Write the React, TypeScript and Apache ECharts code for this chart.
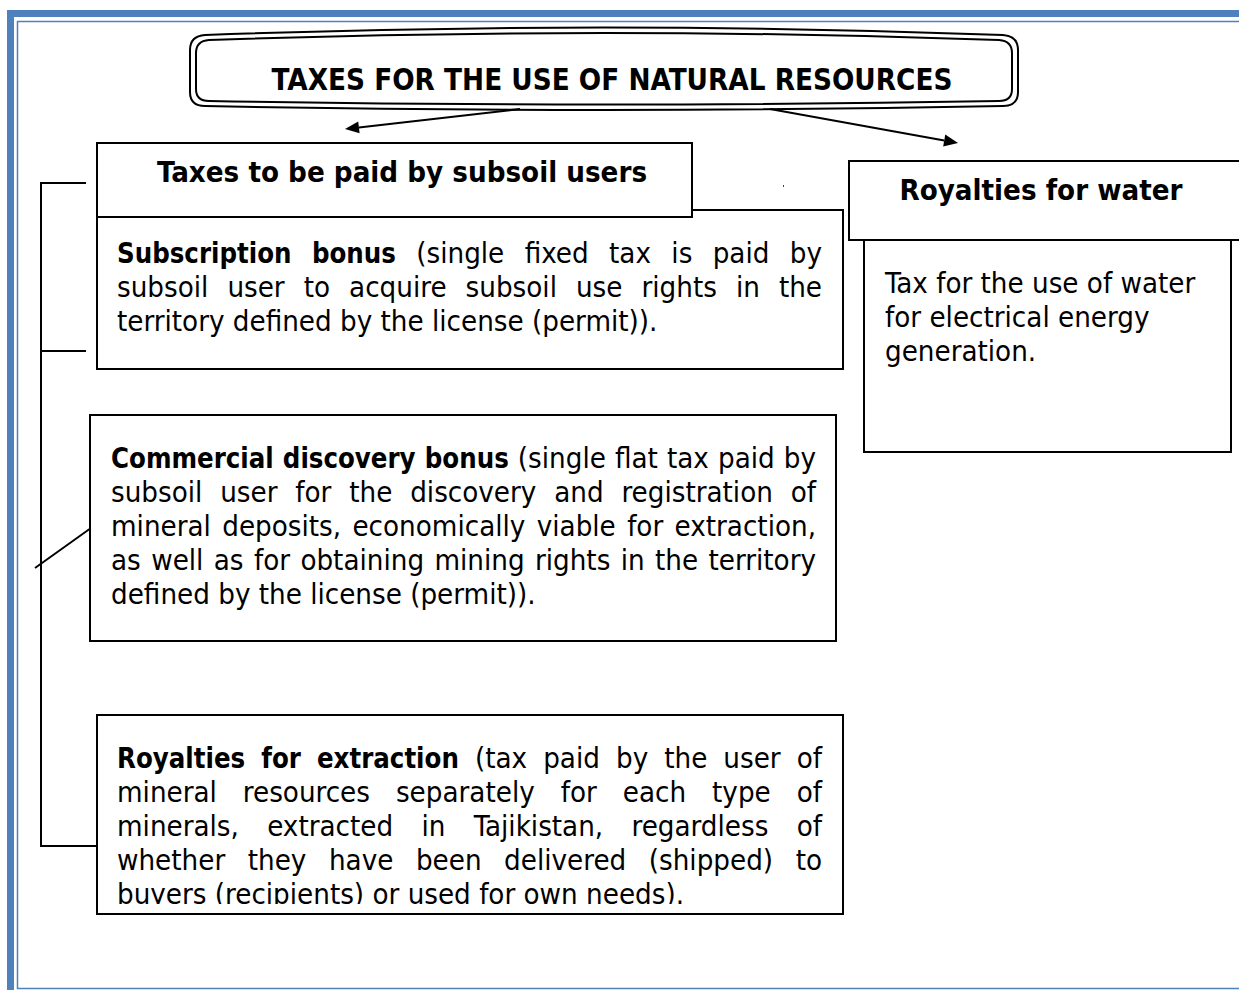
import React, { useEffect, useRef } from 'react';
import * as echarts from 'echarts';

const FONT = '"DejaVu Sans Condensed", "DejaVu Sans", "Noto Sans", sans-serif';
const BLUE = '#4f81bd';
const BOLD_SCALE = 0.935;

const TITLE = 'TAXES FOR THE USE OF NATURAL RESOURCES';
const HEADER_LEFT = 'Taxes to be paid by subsoil users';
const HEADER_RIGHT = 'Royalties for water';

type Seg = { t: string; b?: boolean };

const SUBSCRIPTION_LINES: Seg[][] = [
  [{ t: 'Subscription bonus', b: true }, { t: '(single fixed tax is paid by' }],
  [{ t: 'subsoil user to acquire subsoil use rights in the' }],
  [{ t: 'territory defined by the license (permit)).' }],
];

const DISCOVERY_LINES: Seg[][] = [
  [{ t: 'Commercial discovery bonus', b: true }, { t: '(single flat tax paid by' }],
  [{ t: 'subsoil user for the discovery and registration of' }],
  [{ t: 'mineral deposits, economically viable for extraction,' }],
  [{ t: 'as well as for obtaining mining rights in the territory' }],
  [{ t: 'defined by the license (permit)).' }],
];

const EXTRACTION_LINES: Seg[][] = [
  [{ t: 'Royalties for extraction', b: true }, { t: '(tax paid by the user of' }],
  [{ t: 'mineral resources separately for each type of' }],
  [{ t: 'minerals, extracted in Tajikistan, regardless of' }],
  [{ t: 'whether they have been delivered (shipped) to' }],
  [{ t: 'buyers (recipients) or used for own needs).' }],
];

const WATER_LINES: Seg[][] = [
  [{ t: 'Tax for the use of water' }],
  [{ t: 'for electrical energy' }],
  [{ t: 'generation.' }],
];

const TITLE_OUTER =
  'M 205 35 Q 604 20 1003 35 Q 1018 36 1018 50 L 1018 92 Q 1018 106 1003 106 Q 604 114 205 106 Q 190 106 190 92 L 190 50 Q 190 36 205 35 Z';
const TITLE_INNER =
  'M 209 40 Q 604 26 999 40 Q 1012 41 1012 53 L 1012 89 Q 1012 101 999 101 Q 604 108 209 101 Q 196 101 196 89 L 196 53 Q 196 41 209 40 Z';

let registered = false;
function registerShapes() {
  if (registered) return;
  registered = true;
  echarts.graphic.registerShape('titleOuter', echarts.graphic.extendPath(TITLE_OUTER, {}) as any);
  echarts.graphic.registerShape('titleInner', echarts.graphic.extendPath(TITLE_INNER, {}) as any);
}

const ctx = document.createElement('canvas').getContext('2d') as CanvasRenderingContext2D;
function measure(t: string, bold: boolean, size: number) {
  ctx.font = `${bold ? 'bold ' : ''}${size}px ${FONT}`;
  return ctx.measureText(t).width;
}
// font size that makes a text as wide as it is in the reference
function fitSize(t: string, bold: boolean, width: number, max: number) {
  const s = (28 * width) / measure(t, bold, 28);
  return Math.min(max, Math.round(s * 10) / 10);
}

function textEl(x: number, y: number, text: string, bold: boolean, size: number, align = 'left', scaleX = 1) {
  return {
    type: 'text',
    x,
    y,
    scaleX,
    silent: true,
    style: {
      text,
      fill: '#000',
      fontSize: size,
      fontFamily: FONT,
      fontWeight: bold ? 'bold' : 'normal',
      align,
      verticalAlign: 'middle',
      textAlign: align,
      textVerticalAlign: 'middle',
    },
  };
}

function paragraph(lines: Seg[][], left: number, right: number, y0: number, step: number, size: number, justifyAll: boolean) {
  const els: any[] = [];
  lines.forEach((segs, i) => {
    const words: { w: string; b: boolean }[] = [];
    segs.forEach((s) => s.t.split(' ').filter(Boolean).forEach((w) => words.push({ w, b: !!s.b })));
    const widths = words.map((x) => measure(x.w, x.b, size) * (x.b ? BOLD_SCALE : 1));
    const total = widths.reduce((a, b) => a + b, 0);
    const justify = justifyAll && i < lines.length - 1 && words.length > 1;
    const gap = justify ? (right - left - total) / (words.length - 1) : measure(' ', false, size);
    let x = left;
    words.forEach((wd, k) => {
      els.push(textEl(x, y0 + i * step, wd.w, wd.b, size, 'left', wd.b ? BOLD_SCALE : 1));
      x += widths[k] + gap;
    });
  });
  return els;
}

function box(x: number, y: number, w: number, h: number) {
  return {
    type: 'rect',
    shape: { x, y, width: w, height: h },
    style: { fill: '#fff', stroke: '#000', lineWidth: 2 },
  };
}

function line(x1: number, y1: number, x2: number, y2: number, lw = 2, color = '#000') {
  return { type: 'line', shape: { x1, y1, x2, y2 }, style: { stroke: color, lineWidth: lw } };
}

function arrow(x1: number, y1: number, x2: number, y2: number) {
  const a = Math.atan2(y2 - y1, x2 - x1);
  const c = Math.cos(a);
  const s = Math.sin(a);
  const L = 14;
  const W = 6;
  const bx = x2 - L * c;
  const by = y2 - L * s;
  return [
    line(x1, y1, bx, by, 2),
    {
      type: 'polygon',
      shape: { points: [[x2, y2], [bx - s * W, by + c * W], [bx + s * W, by - c * W]] },
      style: { fill: '#000' },
    },
  ];
}

export default function App() {
  const ref = useRef<HTMLDivElement>(null);
  useEffect(() => {
    if (!ref.current) return;
    registerShapes();
    const chart = echarts.init(ref.current, null, { renderer: 'svg' });
    const BODY = fitSize('Tax for the use of water', false, 320, 29.2);
    const TITLE_SIZE = fitSize(TITLE, true, 680, 34);
    const HL = fitSize(HEADER_LEFT, true, 490, 31);
    const HR = fitSize(HEADER_RIGHT, true, 283, 31);
    const elements: any[] = [
      // page border
      { type: 'rect', shape: { x: 7, y: 10, width: 7, height: 980 }, style: { fill: BLUE } },
      { type: 'rect', shape: { x: 7, y: 10, width: 1232, height: 7 }, style: { fill: BLUE } },
      line(17.5, 21, 17.5, 989, 1.5, BLUE),
      line(17, 21.5, 1239, 21.5, 1.5, BLUE),
      line(17, 988.5, 1239, 988.5, 1.5, BLUE),
      // title
      { type: 'titleOuter', style: { fill: '#fff', stroke: '#000', lineWidth: 2 } },
      { type: 'titleInner', style: { fill: 'none', stroke: '#000', lineWidth: 2 } },
      textEl(612, 80, TITLE, true, TITLE_SIZE, 'center'),
      ...arrow(520, 109, 345, 129),
      ...arrow(770, 109, 958, 143),
      // left bracket
      line(41, 183, 41, 846),
      line(40, 183, 86, 183),
      line(40, 351, 86, 351),
      line(40, 846, 97, 846),
      line(35, 568, 91, 528),
      // subscription box (behind header)
      box(97, 210, 746, 159),
      box(97, 143, 595, 74),
      textEl(402, 172, HEADER_LEFT, true, HL, 'center'),
      ...paragraph(SUBSCRIPTION_LINES, 117, 822, 253, 34, BODY, true),
      // discovery box
      box(90, 415, 746, 226),
      ...paragraph(DISCOVERY_LINES, 111, 816, 458, 34, BODY, true),
      // extraction box
      box(97, 715, 746, 199),
      ...paragraph(EXTRACTION_LINES, 117, 822, 758, 34, BODY, true),
      { type: 'rect', shape: { x: 98, y: 904, width: 744, height: 9 }, style: { fill: '#fff' } },
      line(97, 914, 843, 914),
      // water
      box(864, 240, 367, 212),
      box(849, 161, 400, 79),
      textEl(1041, 190, HEADER_RIGHT, true, HR, 'center'),
      ...paragraph(WATER_LINES, 885, 1225, 283, 34, BODY, false),
      { type: 'rect', shape: { x: 783, y: 185, width: 1, height: 2 }, style: { fill: '#444' } },
    ];
    chart.setOption({
      animation: false,
      graphic: { elements },
    });
    return () => chart.dispose();
  }, []);
  return (
    <div
      ref={ref}
      style={{ position: 'fixed', left: 0, top: 0, width: 1239, height: 990, background: '#fff' }}
    />
  );
}
